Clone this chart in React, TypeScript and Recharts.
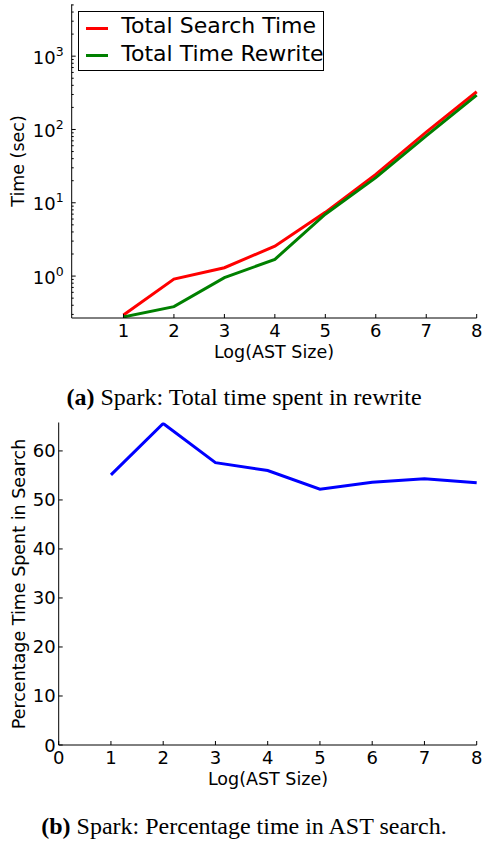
import { LineChart, Line, XAxis, YAxis, Legend, Label } from "recharts";

const FONT = "DejaVu Sans";

// Log2-ish AST sizes on the x axis
const astSize = [1, 2, 3, 4, 5, 6, 7, 8];
// seconds
const totalSearchTime = [0.295, 0.91, 1.3, 2.56, 7.4, 24.4, 92, 327];
const totalTimeRewrite = [0.277, 0.383, 0.95, 1.69, 6.98, 22, 82, 294];
// percent of rewrite spent searching the AST
const pctSearch = [55.1, 65.6, 57.6, 56.0, 52.2, 53.6, 54.3, 53.5];

const xTicksA = [1, 2, 3, 4, 5, 6, 7, 8];
const xTicksB = [0, 1, 2, 3, 4, 5, 6, 7, 8];
const logTicks = [
  0.3, 0.4, 0.5, 0.6, 0.7, 0.8, 0.9, 1, 2, 3, 4, 5, 6, 7, 8, 9, 10, 20, 30, 40, 50, 60, 70, 80, 90,
  100, 200, 300, 400, 500, 600, 700, 800, 900, 1000, 2000, 3000, 4000, 5000,
];
const pctTicks = [0, 10, 20, 30, 40, 50, 60];

const timeData = astSize.map((s, i) => ({
  size: s,
  search: totalSearchTime[i],
  rewrite: totalTimeRewrite[i],
}));
const pctData = astSize.map((s, i) => ({ size: s, pct: pctSearch[i] }));

const TICK_FS = 18;
const LABEL_FS = 17.5;

const isPow10 = (v: number) => Math.abs(Math.log10(v) - Math.round(Math.log10(v))) < 1e-6;

const BottomTick = ({ x, y, payload }: any) => (
  <g>
    <line x1={x} x2={x} y1={y} y2={y - 4} stroke="#000" />
    <text x={x} y={y + 19} textAnchor="middle" fontSize={TICK_FS} fontFamily={FONT} fill="#000">
      {payload.value}
    </text>
  </g>
);

const TopTick = ({ x, y }: any) => <line x1={x} x2={x} y1={y} y2={y + 4} stroke="#000" />;

const LogLeftTick = ({ x, y, payload }: any) => {
  const v = payload.value;
  const major = isPow10(v);
  return (
    <g>
      <line x1={x} x2={x + (major ? 4 : 2)} y1={y} y2={y} stroke="#000" />
      {major && (
        <text x={x - 8} y={y + 7.5} textAnchor="end" fontSize={TICK_FS} fontFamily={FONT} fill="#000">
          10
          <tspan dy={-8} fontSize={12.5}>
            {Math.round(Math.log10(v))}
          </tspan>
        </text>
      )}
    </g>
  );
};

const LogRightTick = ({ x, y, payload }: any) => (
  <line x1={x} x2={x - (isPow10(payload.value) ? 4 : 2)} y1={y} y2={y} stroke="#000" />
);

const LinLeftTick = ({ x, y, payload }: any) => (
  <g>
    <line x1={x} x2={x + 4} y1={y} y2={y} stroke="#000" />
    <text x={x - 3} y={y + 6.5} textAnchor="end" fontSize={TICK_FS} fontFamily={FONT} fill="#000">
      {payload.value}
    </text>
  </g>
);

const LinRightTick = ({ x, y }: any) => <line x1={x} x2={x - 4} y1={y} y2={y} stroke="#000" />;

const axisLabel = (text: string, x: number, y: number, rotate = false) => (
  <Label
    value={text}
    content={() => (
      <text
        x={x}
        y={y}
        textAnchor="middle"
        dominantBaseline="central"
        transform={rotate ? `rotate(-90 ${x} ${y})` : undefined}
        fontSize={LABEL_FS}
        fontFamily={FONT}
        fill="#000"
      >
        {text}
      </text>
    )}
  />
);

const LegendBox = ({ payload }: any) => (
  <div
    style={{
      position: "relative",
      width: 246,
      height: 60,
      boxSizing: "border-box",
      border: "1px solid #000",
      background: "#fff",
      fontFamily: FONT,
      fontSize: 22,
      color: "#000",
    }}
  >
    {(payload || []).map((p: any, i: number) => (
      <div key={p.value} style={{ position: "absolute", left: 0, top: 16.6 + i * 27.7 - 13, height: 26, width: 246 }}>
        <div style={{ position: "absolute", left: 7, top: 11.5, width: 22, height: 3, background: p.color }} />
        <div style={{ position: "absolute", left: 42, top: -2, lineHeight: "26px", whiteSpace: "nowrap" }}>
          {p.value}
        </div>
      </div>
    ))}
  </div>
);

const captionStyle: React.CSSProperties = {
  position: "absolute",
  left: 0,
  width: 488,
  textAlign: "center",
  fontFamily: "Liberation Serif",
  fontSize: 24,
  lineHeight: "24px",
  color: "#000",
  whiteSpace: "nowrap",
};

export default function App() {
  return (
    <div style={{ position: "absolute", left: 0, top: 0, width: 484, height: 841, background: "#fff" }}>
      <div style={{ position: "absolute", left: 0, top: 0 }}>
        <LineChart width={484} height={365} data={timeData} margin={{ top: 4.3, right: 7.3, bottom: 0, left: 0 }}>
          <XAxis
            dataKey="size"
            type="number"
            domain={[-0.026, 8]}
            ticks={xTicksA}
            interval={0}
            height={47}
            tickSize={0}
            tickMargin={0}
            tickLine={false}
            axisLine={{ stroke: "#000" }}
            tick={<BottomTick />}
          >
            {axisLabel("Log(AST Size)", 274, 352)}
          </XAxis>
          <XAxis
            xAxisId="top"
            orientation="top"
            dataKey="size"
            type="number"
            domain={[-0.026, 8]}
            ticks={xTicksA}
            interval={0}
            height={0}
            tickSize={0}
            tickMargin={0}
            tickLine={false}
            axisLine={{ stroke: "#000" }}
            tick={<TopTick />}
          />
          <YAxis
            type="number"
            scale="log"
            domain={[0.268, 5100]}
            allowDataOverflow
            ticks={logTicks}
            interval={0}
            width={71.7}
            tickSize={0}
            tickMargin={0}
            tickLine={false}
            axisLine={{ stroke: "#000" }}
            tick={<LogLeftTick />}
          >
            {axisLabel("Time (sec)", 18.3, 161, true)}
          </YAxis>
          <YAxis
            yAxisId="right"
            orientation="right"
            type="number"
            scale="log"
            domain={[0.268, 5100]}
            allowDataOverflow
            ticks={logTicks}
            interval={0}
            width={0}
            tickSize={0}
            tickMargin={0}
            tickLine={false}
            axisLine={{ stroke: "#000" }}
            tick={<LogRightTick />}
          />
          <Legend
            layout="vertical"
            align="center"
            verticalAlign="middle"
            wrapperStyle={{ left: 78.3, top: 10.7, width: 246, height: 60 }}
            content={<LegendBox />}
          />
          <Line
            dataKey="search"
            name="Total Search Time"
            stroke="#ff0000"
            strokeWidth={3}
            dot={false}
            isAnimationActive={false}
          />
          <Line
            dataKey="rewrite"
            name="Total Time Rewrite"
            stroke="#008000"
            strokeWidth={3}
            dot={false}
            isAnimationActive={false}
          />
        </LineChart>
      </div>
      <div style={{ ...captionStyle, top: 384.9 }}>
        <b>(a)</b> Spark: Total time spent in rewrite
      </div>

      <div style={{ position: "absolute", left: 0, top: 410 }}>
        <LineChart width={484} height={390} data={pctData} margin={{ top: 12.5, right: 7.3, bottom: 0, left: 0 }}>
          <XAxis
            dataKey="size"
            type="number"
            domain={[0, 8]}
            ticks={xTicksB}
            interval={0}
            height={55}
            tickSize={0}
            tickMargin={0}
            tickLine={false}
            axisLine={{ stroke: "#000" }}
            tick={<BottomTick />}
          >
            {axisLabel("Log(AST Size)", 268, 369)}
          </XAxis>
          <XAxis
            xAxisId="top"
            orientation="top"
            dataKey="size"
            type="number"
            domain={[0, 8]}
            ticks={xTicksB}
            interval={0}
            height={0}
            tickSize={0}
            tickMargin={0}
            tickLine={false}
            axisLine={{ stroke: "#000" }}
            tick={<TopTick />}
          />
          <YAxis
            type="number"
            domain={[0, 65.8]}
            allowDataOverflow
            ticks={pctTicks}
            interval={0}
            width={58.7}
            tickSize={0}
            tickMargin={0}
            tickLine={false}
            axisLine={{ stroke: "#000" }}
            tick={<LinLeftTick />}
          >
            {axisLabel("Percentage Time Spent in Search", 19, 174, true)}
          </YAxis>
          <YAxis
            yAxisId="right"
            orientation="right"
            type="number"
            domain={[0, 65.8]}
            allowDataOverflow
            ticks={pctTicks}
            interval={0}
            width={0}
            tickSize={0}
            tickMargin={0}
            tickLine={false}
            axisLine={{ stroke: "#000" }}
            tick={<LinRightTick />}
          />
          <Line dataKey="pct" stroke="#0000ff" strokeWidth={3} dot={false} isAnimationActive={false} />
        </LineChart>
      </div>
      <div style={{ ...captionStyle, top: 813.9 }}>
        <b>(b)</b> Spark: Percentage time in AST search.
      </div>
    </div>
  );
}
